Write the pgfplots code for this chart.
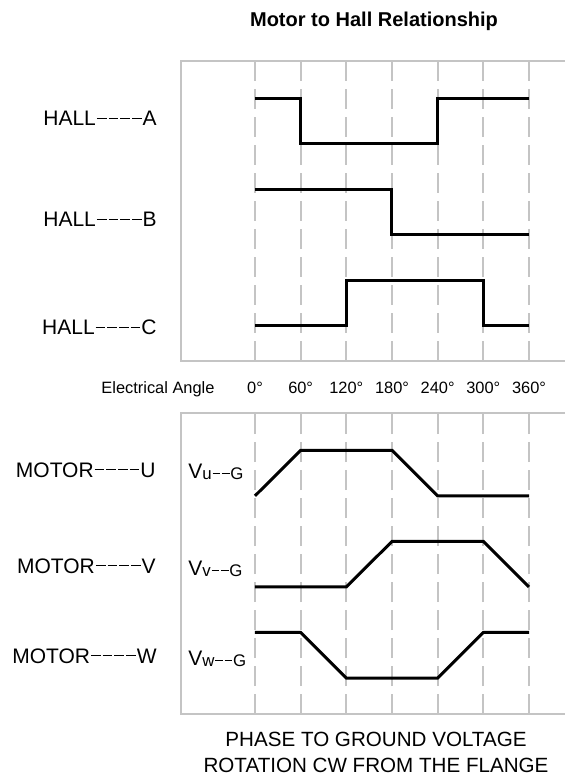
\documentclass[border=0pt]{standalone}
\usepackage{fontspec}
\setmainfont{Liberation Sans}
\usepackage{pgfplots}
\pgfplotsset{compat=1.18}

\definecolor{framegray}{RGB}{196,196,196}

\pgfplotsset{
  timing/.style={
    width=192pt, height=150pt, scale only axis,
    xmin=-97.2, xmax=407.3,
    axis line style={draw=none},
    xtick={0,60,...,360}, ytick=\empty,
    major tick length=0pt,
    xmajorgrids,
    grid style={framegray, line width=1pt, dash pattern=on 10pt off 4pt},
    clip=false,
  },
  wave/.style={black, line width=1.5pt, no markers},
}

\newcommand{\lab}{\fontsize{10.5}{12}\selectfont}
% a dash with gaps on both sides, as in the reference
\newcommand{\dsh}{\kern0.045em\rule[0.33em]{0.466em}{0.5pt}\kern0.045em}
\newcommand{\dd}{\dsh\dsh\dsh\dsh}
\newcommand{\vsub}[1]{V\raisebox{-0.8pt}{\fontsize{8.4}{9}\selectfont #1\dsh\dsh G}}

\begin{document}
\begin{tikzpicture}
\useasboundingbox (0,0) rectangle (282.5pt,-387pt);

% Hall sensor signals
\begin{axis}[timing, at={(90.5pt,-180.5pt)}, anchor=south west,
  ymin=-0.77, ymax=5.824,
  xticklabels={0°,60°,120°,180°,240°,300°,360°},
  xticklabel style={font=\fontsize{8.2}{9}\selectfont, anchor=base, yshift=-16pt}]
  \draw[framegray, line width=1pt] (rel axis cs:1,1) -- (rel axis cs:0,1)
    -- (rel axis cs:0,0) -- (rel axis cs:1,0);
  \addplot[wave] coordinates {(0,5) (60,5) (60,4) (240,4) (240,5) (360,5)};
  \addplot[wave] coordinates {(0,3) (180,3) (180,2) (360,2)};
  \addplot[wave] coordinates {(0,0) (120,0) (120,1) (300,1) (300,0) (360,0)};
\end{axis}

% phase to ground voltages
\begin{axis}[timing, at={(90.5pt,-357pt)}, anchor=south west,
  height=150.5pt, ymin=-0.79, ymax=5.82, xticklabels=\empty]
  \draw[framegray, line width=1pt] (rel axis cs:1,1) -- (rel axis cs:0,1)
    -- (rel axis cs:0,0) -- (rel axis cs:1,0);
  \addplot[wave] coordinates {(0,4) (60,5) (180,5) (240,4) (360,4)};
  \addplot[wave] coordinates {(0,2) (120,2) (180,3) (300,3) (360,2)};
  \addplot[wave] coordinates {(0,1) (60,1) (120,0) (240,0) (300,1) (360,1)};
\end{axis}

\node[anchor=base, inner sep=0pt, font=\fontsize{10}{12}\selectfont\bfseries]
  at (187pt,-13.5pt) {Motor to Hall Relationship};

\node[anchor=base east, inner sep=0pt, font=\lab] at (78.5pt,-62.75pt) {HALL\dd A};
\node[anchor=base east, inner sep=0pt, font=\lab] at (78.5pt,-113.25pt) {HALL\dd B};
\node[anchor=base east, inner sep=0pt, font=\lab] at (78.5pt,-167.25pt) {HALL\dd C};

\node[anchor=base, inner sep=0pt, font=\fontsize{8.2}{9}\selectfont]
  at (79pt,-196.5pt) {Electrical Angle};

\node[anchor=base east, inner sep=0pt, font=\lab] at (78pt,-238.5pt) {MOTOR\dd U};
\node[anchor=base east, inner sep=0pt, font=\lab] at (78pt,-286.5pt) {MOTOR\dd V};
\node[anchor=base east, inner sep=0pt, font=\lab] at (78.5pt,-331.5pt) {MOTOR\dd W};

\node[anchor=base west, inner sep=0pt, font=\lab] at (94pt,-239pt) {\vsub{u}};
\node[anchor=base west, inner sep=0pt, font=\lab] at (94pt,-287.5pt) {\vsub{v}};
\node[anchor=base west, inner sep=0pt, font=\lab] at (94pt,-332.5pt) {\vsub{w}};

\node[anchor=base, inner sep=0pt, font=\fontsize{10.3}{13}\selectfont, align=center]
  at (188pt,-386.3pt) {PHASE TO GROUND VOLTAGE\\ROTATION CW FROM THE FLANGE};
\end{tikzpicture}
\end{document}
